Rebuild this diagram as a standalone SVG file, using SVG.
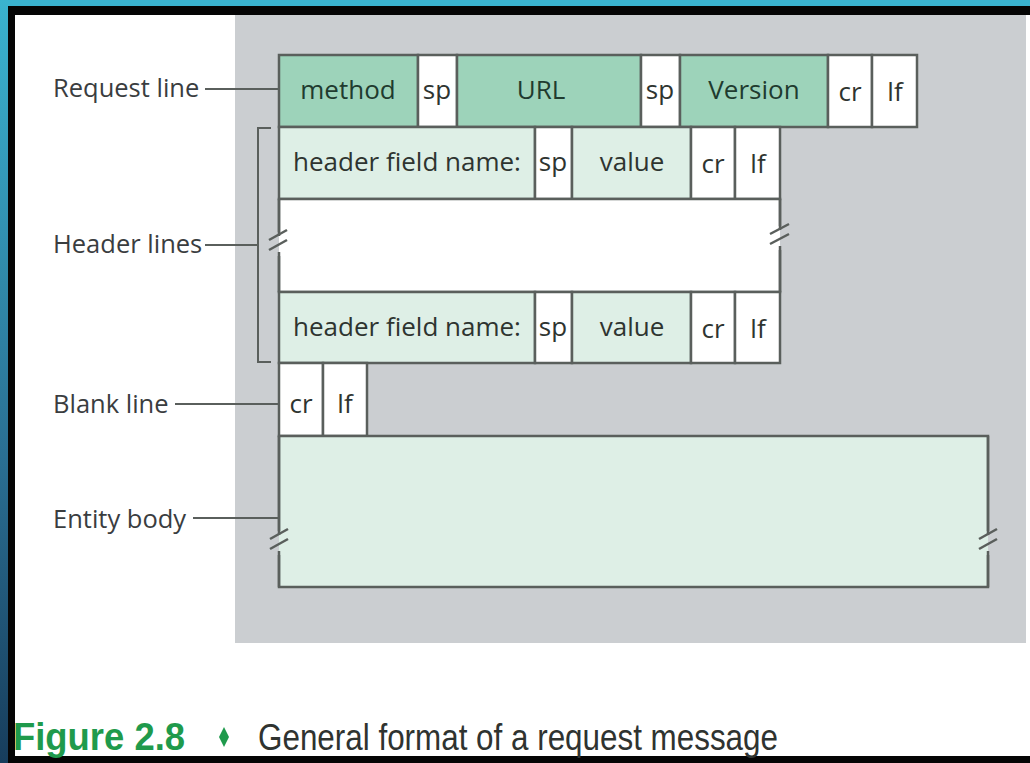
<svg xmlns="http://www.w3.org/2000/svg" width="1030" height="763" viewBox="0 0 1030 763">
<defs>
<linearGradient id="lg" x1="0" y1="0" x2="0" y2="1">
<stop offset="0" stop-color="#3ab3cf"/>
<stop offset="0.6" stop-color="#2a6f93"/>
<stop offset="1" stop-color="#173d5c"/>
</linearGradient>
<style>
.cell{stroke:#5a5f5c;stroke-width:2.5}
.dg{fill:#9dd3ba}
.lg{fill:#deefe6}
.wh{fill:#ffffff}
.t{font-family:"Open Sans","Liberation Sans",sans-serif;font-size:26px;fill:#2e3430}
.tg{font-family:"Open Sans","Liberation Sans",sans-serif;font-size:26px;fill:#1f3b2f}
.lab{font-family:"Open Sans","Liberation Sans",sans-serif;font-size:25.5px;fill:#3a3d3f}
.ln{stroke:#5a5f5c;stroke-width:2;fill:none}
.brk{stroke:#5a5f5c;stroke-width:2.5;fill:none}
</style>
</defs>
<rect x="0" y="0" width="1030" height="763" fill="#ffffff"/>
<rect x="0" y="0" width="1030" height="7" fill="#3ab3cf"/>
<rect x="0" y="0" width="8" height="763" fill="url(#lg)"/>
<rect x="8" y="6" width="1022" height="9" fill="#050505"/>
<rect x="8" y="6" width="7" height="757" fill="#050505"/>
<rect x="8" y="756" width="1022" height="7" fill="#050505"/>
<rect x="235" y="15" width="791" height="628" fill="#cbced1"/>

<g id="labels">
<text class="lab" x="53" y="97">Request line</text>
<text class="lab" x="53" y="253">Header lines</text>
<text class="lab" x="53" y="413">Blank line</text>
<text class="lab" x="53" y="528">Entity body</text>
</g>

<g id="connectors">
<line class="ln" x1="205" y1="89" x2="279" y2="89"/>
<line class="ln" x1="205" y1="245" x2="258" y2="245"/>
<polyline class="ln" points="271,128 258,128 258,362 271,362"/>
<line class="ln" x1="175" y1="404" x2="279" y2="404"/>
<line class="ln" x1="193" y1="518" x2="279" y2="518"/>
</g>

<g id="request-line">
<rect class="cell dg" x="279" y="55" width="139" height="72"/>
<rect class="cell wh" x="418" y="55" width="39" height="72"/>
<rect class="cell dg" x="457" y="55" width="184" height="72"/>
<rect class="cell wh" x="641" y="55" width="39" height="72"/>
<rect class="cell dg" x="680" y="55" width="148" height="72"/>
<rect class="cell wh" x="828" y="55" width="44" height="72"/>
<rect class="cell wh" x="872" y="55" width="45" height="72"/>
<text class="tg" x="348" y="99" text-anchor="middle">method</text>
<text class="t" x="437" y="99" text-anchor="middle">sp</text>
<text class="tg" x="541" y="99" text-anchor="middle">URL</text>
<text class="t" x="660" y="99" text-anchor="middle">sp</text>
<text class="tg" x="754" y="99" text-anchor="middle">Version</text>
<text class="t" x="850" y="101" text-anchor="middle">cr</text>
<text class="t" x="895" y="101" text-anchor="middle">lf</text>
</g>

<g id="header-line-1">
<rect class="cell lg" x="279" y="127" width="256" height="72"/>
<rect class="cell wh" x="535" y="127" width="37" height="72"/>
<rect class="cell lg" x="572" y="127" width="119" height="72"/>
<rect class="cell wh" x="691" y="127" width="44" height="72"/>
<rect class="cell wh" x="735" y="127" width="45" height="72"/>
<text class="t" x="407" y="171" text-anchor="middle">header field name:</text>
<text class="t" x="553" y="171" text-anchor="middle">sp</text>
<text class="t" x="632" y="171" text-anchor="middle">value</text>
<text class="t" x="713" y="173" text-anchor="middle">cr</text>
<text class="t" x="758" y="173" text-anchor="middle">lf</text>
</g>

<g id="header-gap">
<rect class="cell wh" x="279" y="199" width="501" height="93"/>
<rect x="268" y="232" width="11" height="24" fill="#cbced1"/>
<rect x="279" y="232" width="11" height="24" fill="#ffffff"/>
<rect x="780" y="226" width="11" height="24" fill="#cbced1"/>
<rect x="770" y="226" width="10" height="24" fill="#ffffff"/>
<line class="brk" x1="279" y1="199" x2="279" y2="236"/>
<line class="brk" x1="279" y1="252" x2="279" y2="292"/>
<line class="brk" x1="780" y1="199" x2="780" y2="230"/>
<line class="brk" x1="780" y1="246" x2="780" y2="292"/>
<line class="brk" x1="269" y1="240" x2="287" y2="230"/>
<line class="brk" x1="269" y1="250" x2="287" y2="240"/>
<line class="brk" x1="770" y1="234" x2="789" y2="224"/>
<line class="brk" x1="770" y1="244" x2="789" y2="234"/>
</g>

<g id="header-line-2">
<rect class="cell lg" x="279" y="292" width="256" height="71"/>
<rect class="cell wh" x="535" y="292" width="37" height="71"/>
<rect class="cell lg" x="572" y="292" width="119" height="71"/>
<rect class="cell wh" x="691" y="292" width="44" height="71"/>
<rect class="cell wh" x="735" y="292" width="45" height="71"/>
<text class="t" x="407" y="336" text-anchor="middle">header field name:</text>
<text class="t" x="553" y="336" text-anchor="middle">sp</text>
<text class="t" x="632" y="336" text-anchor="middle">value</text>
<text class="t" x="713" y="338" text-anchor="middle">cr</text>
<text class="t" x="758" y="338" text-anchor="middle">lf</text>
</g>

<g id="blank-line">
<rect class="cell wh" x="279" y="363" width="44" height="73"/>
<rect class="cell wh" x="323" y="363" width="44" height="73"/>
<text class="t" x="301" y="413" text-anchor="middle">cr</text>
<text class="t" x="345" y="413" text-anchor="middle">lf</text>
</g>

<g id="entity-body">
<rect class="cell lg" x="279" y="436" width="709" height="151"/>
<rect x="270" y="531" width="18" height="24" fill="#cbced1"/>
<rect x="279" y="531" width="9" height="24" fill="#deefe6"/>
<rect x="979" y="531" width="18" height="24" fill="#cbced1"/>
<rect x="979" y="531" width="9" height="24" fill="#deefe6"/>
<line class="brk" x1="279" y1="436" x2="279" y2="535"/>
<line class="brk" x1="279" y1="551" x2="279" y2="587"/>
<line class="brk" x1="988" y1="436" x2="988" y2="535"/>
<line class="brk" x1="988" y1="551" x2="988" y2="587"/>
<line class="brk" x1="270" y1="539" x2="288" y2="529"/>
<line class="brk" x1="270" y1="549" x2="288" y2="539"/>
<line class="brk" x1="979" y1="539" x2="997" y2="529"/>
<line class="brk" x1="979" y1="549" x2="997" y2="539"/>
</g>

<g id="caption">
<text x="13" y="750" font-family="'Liberation Sans',sans-serif" font-weight="bold" font-size="38" fill="#1f9a4c" textLength="172" lengthAdjust="spacingAndGlyphs">Figure 2.8</text>
<path d="M224 727 L229 737 L224 747 L219 737 Z" fill="#1f9a4c"/>
<text x="258" y="750" font-family="'Liberation Sans',sans-serif" font-size="36" fill="#2f3330" textLength="520" lengthAdjust="spacingAndGlyphs">General format of a request message</text>
</g>
</svg>
